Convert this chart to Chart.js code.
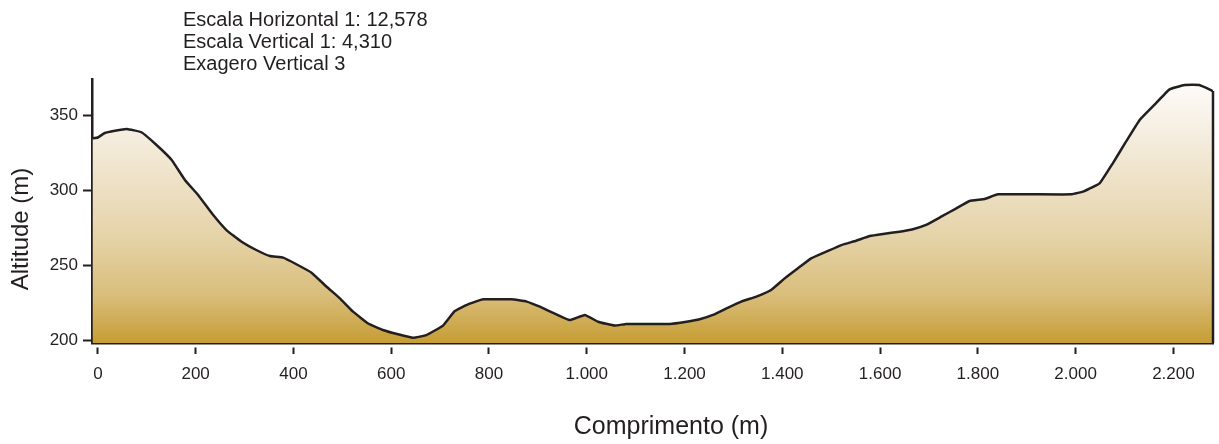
<!DOCTYPE html>
<html>
<head>
<meta charset="utf-8">
<script src="https://cdn.jsdelivr.net/npm/chart.js@4/dist/chart.umd.min.js"></script>
<style>
  html, body { margin: 0; padding: 0; background: #ffffff; }
  #wrap { width: 1219px; height: 444px; position: relative; }
</style>
</head>
<body>
<div id="wrap"><canvas id="profile" width="1219" height="444"></canvas></div>
<script>
// Terrain profile: distance along the section (m) and ground altitude (m)
const distance = [-11, 0, 14, 35, 59, 89, 120, 151, 178, 205, 236, 263, 294, 324, 352, 379, 406, 437, 468, 495,
  522, 553, 583, 614, 645, 672, 706, 730, 757, 788, 846, 877, 904, 938, 965, 996, 1023, 1057, 1081, 1170,
  1204, 1231, 1258, 1286, 1316, 1347, 1377, 1405, 1432, 1459, 1490, 1521, 1551, 1579, 1606, 1640, 1667, 1694,
  1725, 1756, 1783, 1814, 1841, 1991, 2018, 2049, 2076, 2103, 2131, 2161, 2192, 2223, 2253, 2281];
const altitude = [334.5, 335, 338, 339.5, 340.7, 338.5, 330, 320, 306.7, 296.7, 283.3, 273.3, 265.5, 260, 256, 254.9, 250.5, 244.9, 235.5, 227.8,
  218.9, 211, 206.7, 203.8, 201.5, 203.3, 209.6, 219.3, 223.8, 227.1, 227.1, 225.6, 222.2, 217.1, 213.3, 216.7, 212.2, 209.6, 210.7, 210.7,
  212.2, 213.8, 216.7, 221.1, 225.6, 228.9, 233.3, 241.1, 247.8, 254.4, 258.9, 263.3, 266.2, 269.3, 270.7, 272.2, 273.8, 276.7,
  282.2, 287.8, 292.7, 294, 297.1, 297.1, 299.3, 304.4, 317.8, 332.2, 346.7, 356.7, 367.1, 370, 370, 366];

const xTickValues = [0, 200, 400, 600, 800, 1000, 1200, 1400, 1600, 1800, 2000, 2200];
const xTickLabels = ['0', '200', '400', '600', '800', '1.000', '1.200', '1.400', '1.600', '1.800', '2.000', '2.200'];
const yTickValues = [200, 250, 300, 350];
const yTickLabels = ['200', '250', '300', '350'];

const headerLines = ['Escala Horizontal 1: 12,578', 'Escala Vertical 1: 4,310', 'Exagero Vertical 3'];
const xTitle = 'Comprimento (m)';
const yTitle = 'Altitude (m)';

const INK = '#231f20';
const FONT = '"Liberation Sans", Arial, Helvetica, sans-serif';

// Closes the profile on the right with a vertical edge down to the baseline
const rightEdge = {
  id: 'rightEdge',
  afterDatasetsDraw(chart) {
    const pts = chart.getDatasetMeta(0).data;
    const last = pts[pts.length - 1];
    const ctx = chart.ctx;
    ctx.save();
    ctx.strokeStyle = INK;
    ctx.lineWidth = 2.5;
    ctx.beginPath();
    ctx.moveTo(last.x, last.y);
    ctx.lineTo(last.x, chart.chartArea.bottom);
    ctx.stroke();
    ctx.restore();
  }
};

// Scale notes in the top left and the two axis titles
const labels = {
  id: 'labels',
  afterDraw(chart) {
    const ctx = chart.ctx;
    ctx.save();
    ctx.fillStyle = INK;
    ctx.font = '20px ' + FONT;
    ctx.textAlign = 'left';
    ctx.textBaseline = 'alphabetic';
    const baselines = [26, 48, 69.5];
    headerLines.forEach((t, i) => ctx.fillText(t, 183, baselines[i]));

    ctx.font = '25px ' + FONT;
    ctx.textAlign = 'center';
    ctx.textBaseline = 'middle';
    ctx.fillText(xTitle, 671, 427);

    ctx.font = '24px ' + FONT;
    ctx.translate(21, 229);
    ctx.rotate(-Math.PI / 2);
    ctx.fillText(yTitle, 0, 0);
    ctx.restore();
  }
};

const ctx = document.getElementById('profile').getContext('2d');
new Chart(ctx, {
  type: 'line',
  data: {
    datasets: [{
      data: distance.map((d, i) => ({ x: d, y: altitude[i] })),
      borderColor: INK,
      borderWidth: 2.5,
      pointRadius: 0,
      tension: 0.1,
      fill: 'start',
      backgroundColor(c) {
        const area = c.chart.chartArea;
        if (!area) return 'rgba(0,0,0,0)';
        const g = c.chart.ctx.createLinearGradient(0, area.top, 0, area.bottom);
        g.addColorStop(0.0, '#fefdfb');
        g.addColorStop(0.3, '#f1e7d3');
        g.addColorStop(0.6, '#e5d3a8');
        g.addColorStop(0.82, '#d9bd7b');
        g.addColorStop(1.0, '#c69d34');
        return g;
      }
    }]
  },
  options: {
    responsive: false,
    animation: false,
    layout: { padding: { top: 79, right: 6, left: 0, bottom: 0 } },
    plugins: {
      legend: { display: false },
      tooltip: { enabled: false },
      title: { display: false }
    },
    scales: {
      x: {
        type: 'linear',
        min: -12,
        max: 2281,
        afterBuildTicks(scale) { scale.ticks = xTickValues.map(v => ({ value: v })); },
        afterFit(scale) { scale.height = 101; },
        border: { display: true, color: INK, width: 2.5 },
        grid: {
          drawOnChartArea: false,
          drawTicks: true,
          tickLength: 11,
          tickColor: INK,
          tickWidth: 2,
          tickBorderDash: [0, 3, 8, 60],
          color: 'rgba(0,0,0,0)'
        },
        ticks: {
          autoSkip: false,
          maxRotation: 0,
          padding: 10,
          color: INK,
          font: { family: FONT, size: 17 },
          callback(value) {
            const i = xTickValues.indexOf(value);
            return i >= 0 ? xTickLabels[i] : '';
          }
        }
      },
      y: {
        type: 'linear',
        min: 198,
        max: 374,
        afterBuildTicks(scale) { scale.ticks = yTickValues.map(v => ({ value: v })); },
        afterFit(scale) { scale.width = 92; },
        border: { display: true, color: INK, width: 2.5 },
        grid: {
          drawOnChartArea: false,
          drawTicks: true,
          tickLength: 9,
          tickColor: INK,
          tickWidth: 2,
          color: 'rgba(0,0,0,0)'
        },
        ticks: {
          padding: 5,
          color: INK,
          font: { family: FONT, size: 17 },
          callback(value) {
            const i = yTickValues.indexOf(value);
            return i >= 0 ? yTickLabels[i] : '';
          }
        }
      }
    }
  },
  plugins: [rightEdge, labels]
});
</script>
</body>
</html>
